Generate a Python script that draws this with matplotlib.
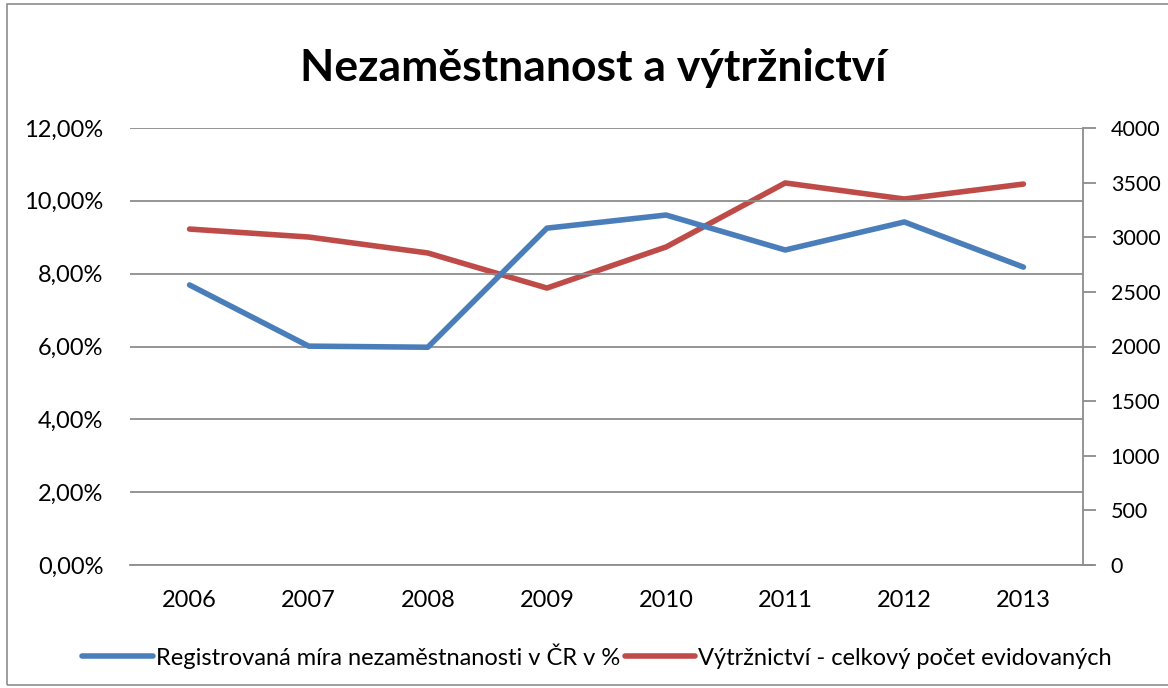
import numpy as np
import matplotlib.pyplot as plt
from matplotlib.patches import Rectangle

### data
years = ['2006', '2007', '2008', '2009', '2010', '2011', '2012', '2013']
unemployment = [7.69, 6.01, 5.98, 9.25, 9.61, 8.65, 9.42, 8.18]  # %
disorder = [3075, 3002, 2856, 2535, 2911, 3497, 3350, 3487]  # count

plt.rcParams['font.family'] = ['Lato', 'DejaVu Sans']

fig = plt.figure(figsize=(11.68, 6.88), dpi=100)
fig.patches.append(Rectangle((0.006, 0.004), 1.0, 0.99, transform=fig.transFigure,
                             fill=False, edgecolor='#8c8c8c', linewidth=1.2))

ax = fig.add_axes([130/1168, 1 - 565/688, (1083-130)/1168, (565-128)/688])
ax2 = ax.twinx()

x = np.arange(len(years))
l1, = ax.plot(x, unemployment, color='#4A7EBB', lw=4, solid_capstyle='round',
              label='Registrovaná míra nezaměstnanosti v ČR v %')
l2, = ax2.plot(x, disorder, color='#BE4B48', lw=4, solid_capstyle='round',
               label='Výtržnictví - celkový počet evidovaných')

#### left axis
ax.set_xlim(-0.5, 7.5)
ax.set_ylim(0, 12)
ax.set_yticks(np.arange(0, 13, 2))
ax.set_yticklabels([f'{v:.2f}%'.replace('.', ',') for v in np.arange(0, 13, 2)])
ax.set_xticks(x)
ax.set_xticklabels(years)
ax.grid(axis='y', color='#8c8c8c', lw=1.3)
ax.set_axisbelow(True)
ax.tick_params(axis='y', length=0, labelsize=17, pad=19)
ax.tick_params(axis='x', length=0, labelsize=17, pad=18)

#### right axis
ax2.set_ylim(0, 4000)
ax2.set_yticks(np.arange(0, 4001, 500))
ax2.tick_params(axis='y', length=9, width=1.3, color='#8c8c8c', labelsize=15.5, pad=11)

for a in (ax, ax2):
    for s in ('top', 'left', 'right', 'bottom'):
        a.spines[s].set_visible(False)
ax2.spines['right'].set_visible(True)
ax2.spines['right'].set_color('#8c8c8c')
ax2.spines['right'].set_linewidth(1.3)
ax.plot([-0.5, 7.58], [0, 0], color='#8c8c8c', lw=1.3, clip_on=False, zorder=1)

ax.set_zorder(ax2.get_zorder() + 1)
ax.patch.set_visible(False)

fig.text(0.508, 1 - 68/688, 'Nezaměstnanost a výtržnictví', ha='center', va='center',
         fontsize=32, fontweight='bold')

fig.legend(handles=[l1, l2], loc='center', bbox_to_anchor=(0.511, 1 - 656/688), ncol=2,
           frameon=False, fontsize=17, handlelength=3.0, handletextpad=0.1, columnspacing=0.2)

plt.savefig('out.png', dpi=100)
